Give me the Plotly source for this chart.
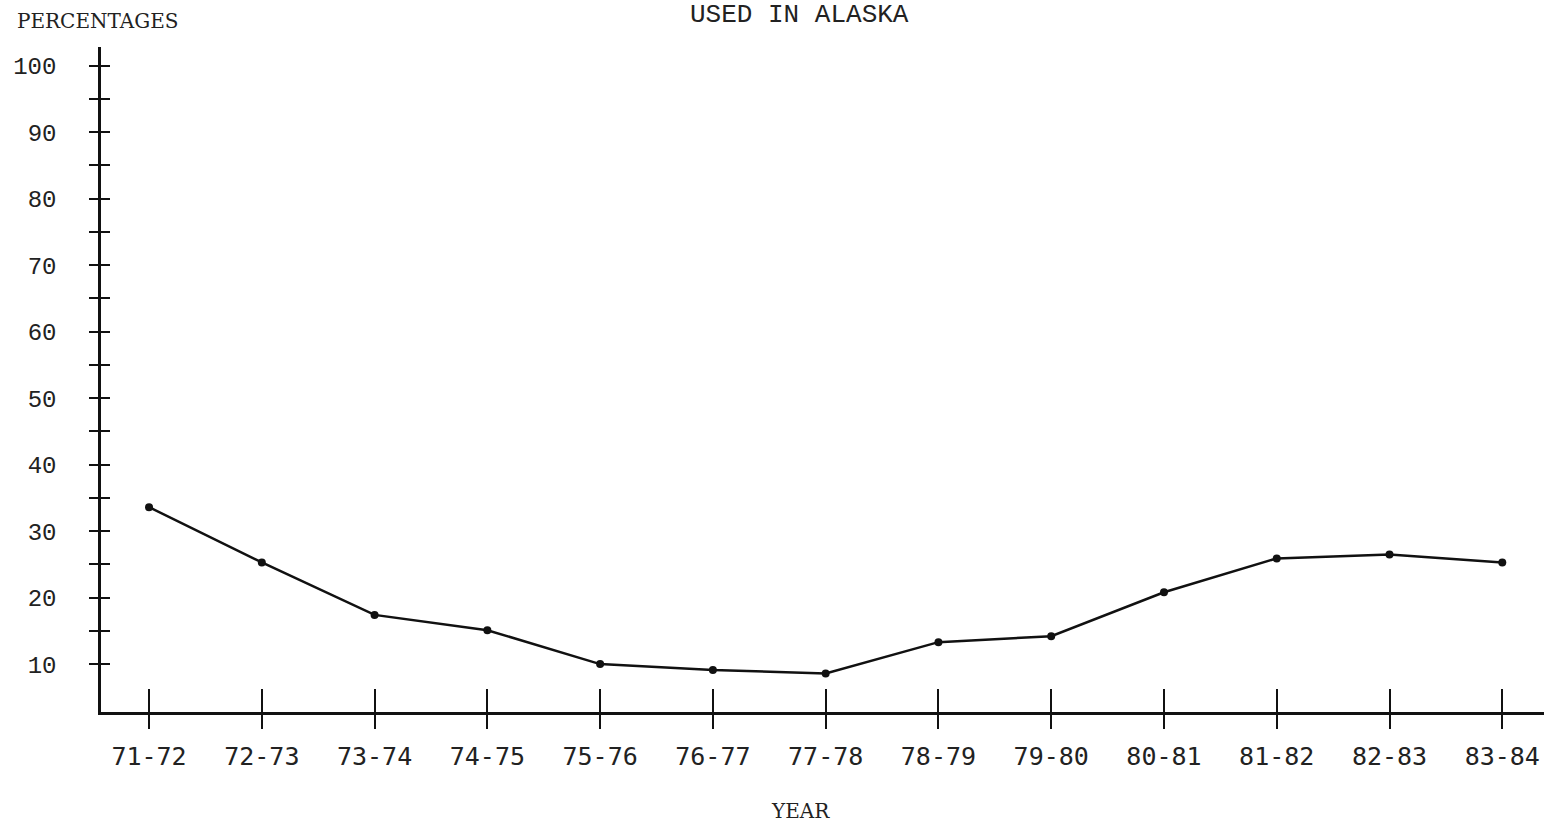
import plotly.graph_objects as go

years = ["71-72", "72-73", "73-74", "74-75", "75-76", "76-77", "77-78",
         "78-79", "79-80", "80-81", "81-82", "82-83", "83-84"]
percentages = [33.6, 25.3, 17.4, 15.1, 10.0, 9.1, 8.6, 13.3, 14.2, 20.8, 25.9, 26.5, 25.3]
y_tick_vals = [10, 15, 20, 25, 30, 35, 40, 45, 50, 55, 60, 65, 70, 75, 80, 85, 90, 95, 100]
y_tick_text = ["10", "", "20", "", "30", "", "40", "", "50", "", "60", "", "70", "", "80", "", "90", "", "100"]

xpos = list(range(len(years)))
XR = [-0.426, 12.37]
YR = [2.8, 102.8]

# plot area in pixels
L, R, T, B = 101, 1544, 47, 712
W, H = R - L, B - T


def px(x):
    return (x - L) / W


def py(y):
    return (B - y) / H


fig = go.Figure()
fig.add_trace(go.Scatter(
    x=xpos, y=percentages, mode="lines+markers",
    line=dict(color="#111111", width=2.5),
    marker=dict(color="#111111", size=8),
    hoverinfo="skip", showlegend=False))
# helper trace to anchor the overlay axes (inside half of crossing ticks)
fig.add_trace(go.Scatter(
    x=xpos, y=percentages, mode="lines", opacity=0,
    xaxis="x2", yaxis="y2", hoverinfo="skip", showlegend=False))

mono = "Liberation Mono"
serif = "DejaVu Serif"

fig.update_layout(
    width=1544, height=825,
    margin=dict(l=L, r=1544 - R, t=T, b=825 - B, autoexpand=False),
    paper_bgcolor="white", plot_bgcolor="white",
    xaxis=dict(range=XR, tickmode="array", tickvals=xpos, ticktext=years,
               ticks="outside", ticklen=14, tickwidth=2, tickcolor="#111",
               showline=True, linecolor="#111", linewidth=2.5,
               showgrid=False, zeroline=False, automargin=False,
               tickfont=dict(family="DejaVu Sans Mono", size=25, color="#222"),
               ticklabelstandoff=6),
    yaxis=dict(range=YR, tickmode="array", tickvals=y_tick_vals, ticktext=y_tick_text,
               ticks="outside", ticklen=9, tickwidth=2, tickcolor="#111",
               showline=True, linecolor="#111", linewidth=2.5,
               showgrid=False, zeroline=False, automargin=False,
               tickfont=dict(family=mono, size=24, color="#222"),
               ticklabelstandoff=28),
    xaxis2=dict(overlaying="x", matches="x", range=XR, tickmode="array", tickvals=xpos,
                ticks="inside", ticklen=23, tickwidth=2, tickcolor="#111", automargin=False,
                showticklabels=False, showline=False, showgrid=False, zeroline=False),
    yaxis2=dict(overlaying="y", matches="y", range=YR, tickmode="array", tickvals=y_tick_vals,
                ticks="inside", ticklen=9, tickwidth=2, tickcolor="#111", automargin=False,
                showticklabels=False, showline=False, showgrid=False, zeroline=False),
    annotations=[
        dict(text="USED IN ALASKA", xref="paper", yref="paper", x=px(799), y=py(15),
             xanchor="center", yanchor="middle", showarrow=False,
             font=dict(family=mono, size=26, color="#222")),
        dict(text="PERCENTAGES", xref="paper", yref="paper", x=px(15), y=py(21),
             xanchor="left", yanchor="middle", showarrow=False,
             font=dict(family=serif, size=20, color="#222")),
        dict(text="YEAR", xref="paper", yref="paper", x=px(800), y=py(811),
             xanchor="center", yanchor="middle", showarrow=False,
             font=dict(family=serif, size=20, color="#222")),
    ],
)

fig.write_html("out.html", config={"displayModeBar": False},
               post_script="document.body.style.margin='0';")
